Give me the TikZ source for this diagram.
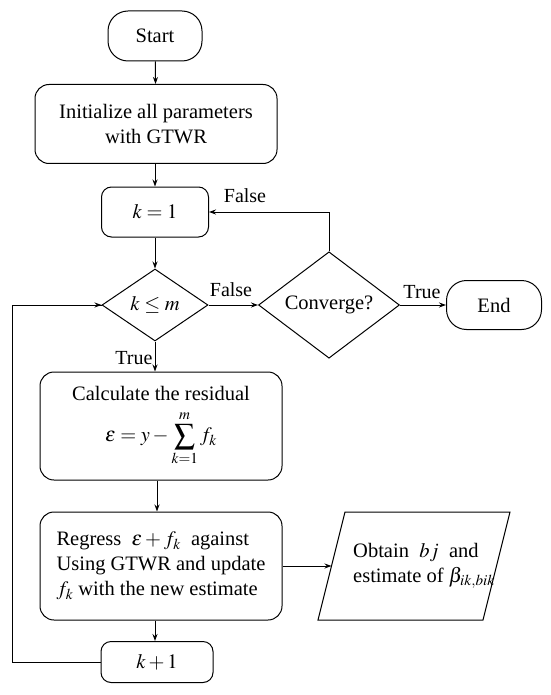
\documentclass[tikz,border=0pt]{standalone}
\usepackage{mathptmx}
\usepackage{fontspec}
\setmainfont{Liberation Serif}
\usetikzlibrary{shapes.geometric,arrows.meta}
\tikzset{
  base/.style={draw, line width=1pt, inner sep=0pt, align=center, font=\fontsize{20.5}{25}\selectfont},
  term/.style={base, rounded corners=20pt},
  proc/.style={base, rounded corners=14pt},
  decision/.style={base, diamond},
  arr/.style={line width=1pt, -{Stealth[length=7pt,width=5pt]}},
  lbl/.style={font=\fontsize{20}{22}\selectfont, inner sep=0pt}
}
\begin{document}
\begin{tikzpicture}[x=1pt,y=-1pt]
\fill[white] (0,0) rectangle (550,695);
\node[term, minimum width=94pt, minimum height=50pt] (start) at (155,36) {Start};
\node[proc, minimum width=242pt, minimum height=79pt] (init) at (156,124) {Initialize all parameters\\with GTWR};
\node[proc, rounded corners=10pt, minimum width=107pt, minimum height=50pt] (k1) at (155,212) {$k=1$};
\node[decision, minimum width=106pt, minimum height=72pt] (kle) at (155,305) {$k\le m$};
\node[decision, minimum width=141pt, minimum height=94pt] (conv) at (329,305) {Converge?};
\node[term, minimum width=95pt, minimum height=49pt] (end) at (494,305) {End};
\node[proc, minimum width=242pt, minimum height=108pt, font=\fontsize{20.5}{25}\selectfont] (calc) at (161,426) {Calculate the residual\\[9pt]$\varepsilon = y - \displaystyle\sum_{k=1}^{m} f_k$};
\node[proc, minimum width=242pt, minimum height=108pt, align=left] (reg) at (161,566) {Regress \ $\varepsilon + f_k$ \ against\\Using GTWR and update\\$f_k$ with the new estimate};
% parallelogram
\draw[line width=1pt] (345,512) -- (510,512) -- (483,620) -- (318,620) -- cycle;
\coordinate (obtw) at (331.5,566);
\node[inner sep=0pt, align=left, font=\fontsize{20.5}{25}\selectfont, anchor=west] (obt) at (353,566) {Obtain \ $bj$ \ and\\estimate of $\beta_{ik,bik}$};
\node[proc, rounded corners=10pt, minimum width=112pt, minimum height=41pt] (kp1) at (157,662) {$k+1$};
\coordinate (loop) at (12,662);
\draw[arr] (start) -- (init);
\draw[arr] (init.south -| k1.north) -- (k1.north);
\draw[arr] (k1) -- (kle);
\draw[arr] (kle) -- (conv);
\draw[arr] (conv) -- (end);
\draw[arr] (conv.north) |- (k1.east);
\draw[arr] (kle.south) -- (kle.south |- calc.north);
\draw[arr] ([xshift=2pt]calc.south -| kle.south) -- ([xshift=2pt]kle.south |- reg.north);
\draw[arr] (reg.east) -- (obtw);
\draw[arr] (reg.south -| kle.south) -- (kle.south |- kp1.north);
\draw[line width=1pt] (kp1.west) -- (loop) |- (kle.west);
\draw[arr] (loop |- kle.west) -- (kle.west);
\node[lbl] (lf1) at (245,196) {False};
\node[lbl] (lf2) at (231,290) {False};
\node[lbl] (lt1) at (422,292) {True};
\node[lbl] (lt2) at (134,358) {True};
\end{tikzpicture}
\end{document}
